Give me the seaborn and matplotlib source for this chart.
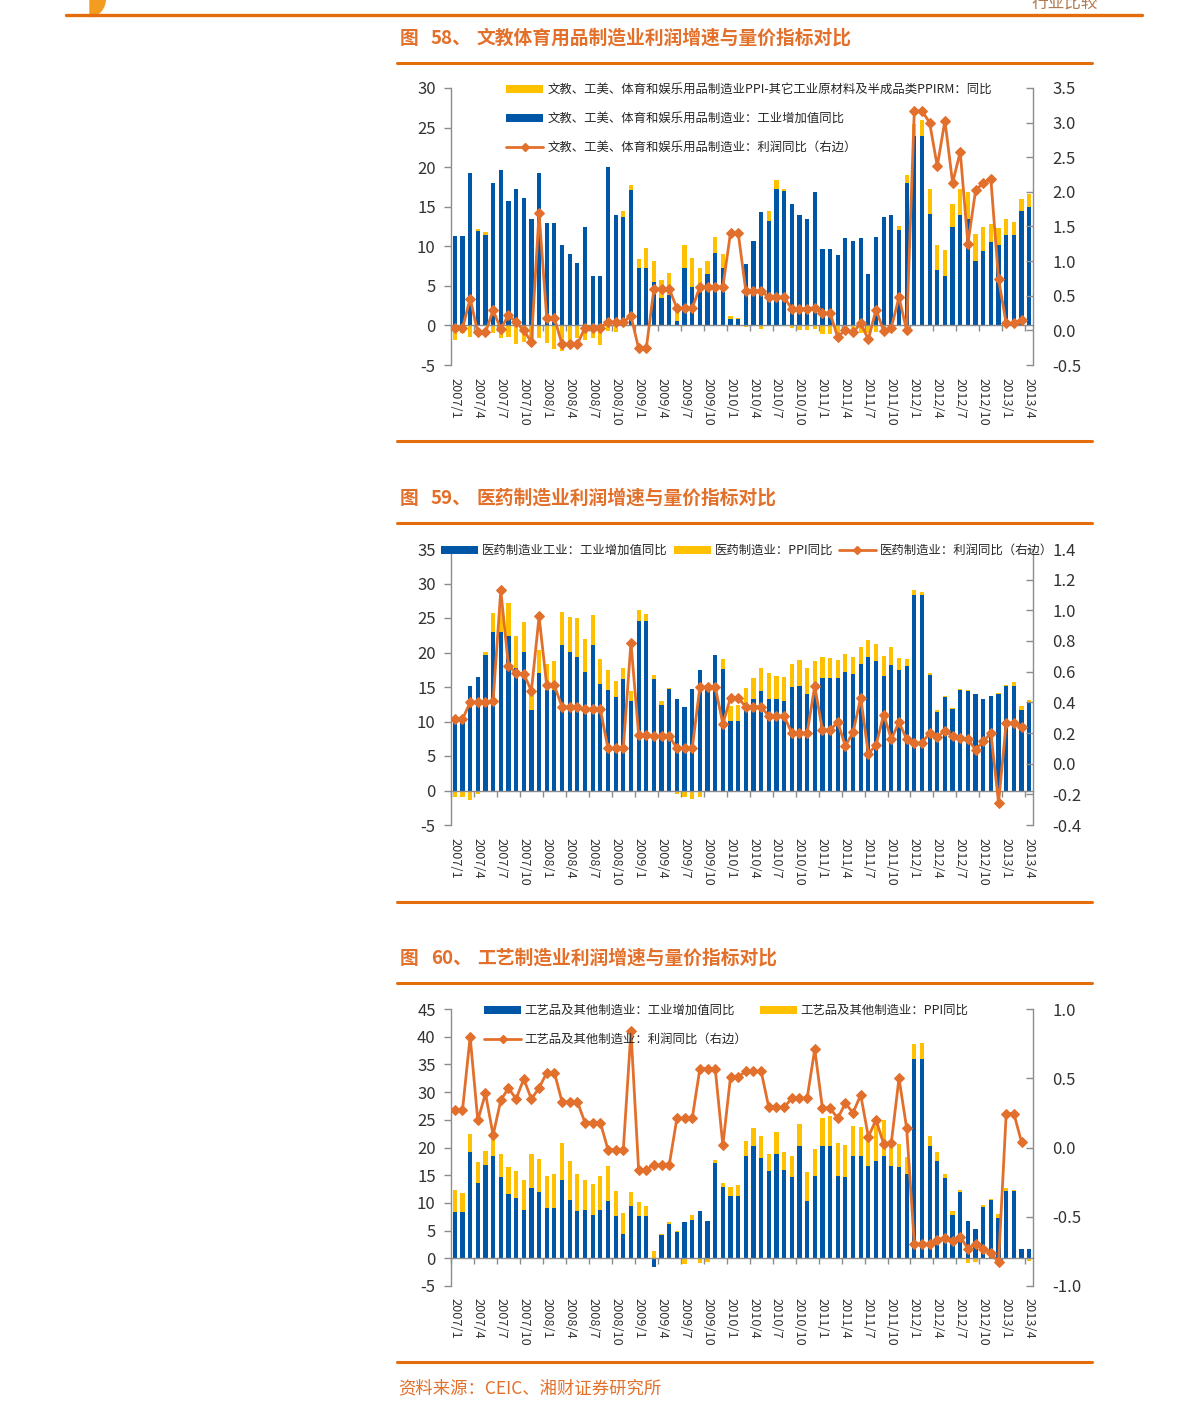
import numpy as np
import matplotlib
matplotlib.use("Agg")
import matplotlib.pyplot as plt
import seaborn as sns
from matplotlib.lines import Line2D
from matplotlib.patches import Patch, Wedge

# ---------------- data ----------------
tick_labels = ["2007/1", "2007/4", "2007/7", "2007/10", "2008/1", "2008/4", "2008/7", "2008/10",
               "2009/1", "2009/4", "2009/7", "2009/10", "2010/1", "2010/4", "2010/7", "2010/10",
               "2011/1", "2011/4", "2011/7", "2011/10", "2012/1", "2012/4", "2012/7", "2012/10",
               "2013/1", "2013/4"]
n_months = 76

p1_blue = [11.3, 11.3, 19.2, 11.9, 11.4, 18.0, 19.6, 15.7, 17.3, 16.1,
           13.4, 19.3, 13.0, 13.0, 10.1, 9.0, 7.9, 12.4, 6.3, 6.2,
           20.0, 14.0, 13.7, 17.1, 7.3, 7.3, 5.5, 3.5, 3.8, 0.5,
           7.3, 4.8, 4.7, 6.5, 9.2, 7.3, 0.75, 0.75, 7.8, 10.7,
           14.3, 13.2, 17.3, 17.0, 15.3, 13.9, 13.4, 16.8, 9.7, 9.7,
           8.9, 11.1, 10.7, 11.0, 6.5, 11.2, 13.7, 13.9, 12.0, 18.0,
           23.9, 23.9, 14.1, 7.0, 6.3, 12.5, 14.0, 13.4, 8.2, 9.4,
           10.5, 10.2, 11.4, 11.4, 14.5, 15.0]
p1_yellow = [-1.8, -1.0, -1.4, 0.3, 0.35, -0.9, -1.6, -1.4, -2.3, -2.1,
             -2.0, -1.6, -2.2, -3.0, -3.2, -2.4, -1.6, -1.8, -1.55, -2.5,
             -0.7, -0.8, 0.8, 0.7, 1.05, 2.5, 2.65, 2.2, 2.8, 1.7,
             2.8, 3.7, 2.5, 1.7, 2.0, 1.7, 0.45, 0.25, -0.15, -0.1,
             -0.5, 1.2, 1.1, 0.2, -0.3, -0.55, -0.55, -0.4, -1.1, -1.1,
             -1.4, -0.9, -0.8, -1.0, -1.0, -0.8, -0.3, -0.2, 0.6, 1.05,
             1.5, 2.1, 3.2, 3.1, 3.2, 2.9, 3.3, 3.4, 3.4, 3.1,
             2.3, 2.1, 2.1, 1.7, 1.5, 1.6]
p1_line = [0.03, 0.03, 0.46, -0.03, -0.03, 0.29, 0.02, 0.22, 0.12, 0.0,
           -0.17, 1.69, 0.18, 0.18, -0.2, -0.2, -0.2, 0.04, 0.04, 0.04,
           0.12, 0.12, 0.12, 0.21, -0.26, -0.26, 0.6, 0.6, 0.6, 0.32,
           0.32, 0.32, 0.63, 0.63, 0.63, 0.63, 1.41, 1.41, 0.57, 0.57,
           0.57, 0.48, 0.48, 0.48, 0.31, 0.31, 0.31, 0.32, 0.25, 0.25,
           -0.1, 0.01, -0.03, 0.1, -0.13, 0.3, -0.01, 0.04, 0.48, 0.0,
           3.17, 3.17, 3.0, 2.37, 3.03, 2.13, 2.58, 1.25, 2.02, 2.13,
           2.18, 0.74, 0.1, 0.1, 0.15, np.nan]

p2_blue = [10.1, 10.1, 15.2, 16.5, 19.7, 22.9, 22.9, 22.4, 17.7, 20.1,
           11.7, 17.0, 14.5, 14.5, 21.1, 20.1, 19.4, 17.2, 21.1, 15.5,
           14.5, 13.5, 16.1, 12.9, 24.6, 24.6, 16.1, 12.4, 14.7, 13.2,
           12.1, 14.7, 17.5, 14.5, 19.7, 17.6, 10.1, 10.1, 12.7, 13.3,
           14.4, 13.2, 13.3, 12.9, 15.0, 15.1, 14.0, 15.2, 16.25, 16.25,
           16.25, 17.2, 16.9, 18.3, 19.4, 18.7, 16.6, 18.2, 17.5, 18.0,
           28.3, 28.3, 16.8, 11.4, 13.5, 11.8, 14.6, 14.4, 14.0, 13.3,
           13.75, 14.0, 15.1, 15.1, 11.7, 12.7]
p2_yellow = [-0.9, -0.9, -1.35, -0.5, 0.4, 2.85, 3.4, 4.8, 4.75, 4.3,
             3.0, 3.3, 3.8, 4.3, 4.8, 5.0, 5.6, 4.7, 4.3, 3.6,
             3.0, 2.3, 1.6, 1.5, 1.6, 1.0, 0.7, 0.5, 0.2, -0.5,
             -0.9, -1.2, -0.9, -0.2, -0.2, 1.4, 2.2, 2.3, 2.2, 3.0,
             3.4, 3.8, 3.3, 3.5, 3.4, 3.75, 3.8, 3.5, 3.1, 3.0,
             2.7, 2.6, 2.45, 2.5, 2.35, 2.6, 2.9, 2.6, 1.7, 1.1,
             0.8, 0.4, 0.25, 0.25, 0.15, 0.1, 0.15, 0.15, -0.1, -0.15,
             -0.1, 0.15, 0.25, 0.6, 0.5, 0.4]
p2_line = [0.29, 0.29, 0.40, 0.40, 0.40, 0.41, 1.13, 0.64, 0.59, 0.585,
           0.475, 0.96, 0.51, 0.51, 0.37, 0.37, 0.37, 0.356, 0.356, 0.356,
           0.10, 0.10, 0.10, 0.79, 0.19, 0.19, 0.18, 0.18, 0.18, 0.10,
           0.10, 0.10, 0.50, 0.50, 0.50, 0.26, 0.43, 0.43, 0.37, 0.37,
           0.37, 0.31, 0.31, 0.31, 0.20, 0.20, 0.20, 0.505, 0.22, 0.22,
           0.27, 0.115, 0.205, 0.43, 0.065, 0.12, 0.32, 0.16, 0.27, 0.16,
           0.135, 0.135, 0.20, 0.175, 0.215, 0.18, 0.17, 0.16, 0.09, 0.145,
           0.20, -0.255, 0.265, 0.265, 0.24, np.nan]

p3_blue = [8.3, 8.3, 19.1, 13.6, 16.8, 18.5, 14.6, 11.6, 10.8, 8.8,
           12.7, 11.9, 9.1, 9.1, 14.2, 10.6, 8.5, 8.8, 7.9, 8.8,
           10.3, 7.7, 4.4, 9.4, 7.7, 7.7, -1.6, 4.2, 6.2, 4.8,
           6.5, 7.0, 8.6, 6.8, 17.2, 12.9, 11.2, 11.2, 18.5, 20.3,
           18.1, 15.7, 18.8, 16.0, 14.6, 20.2, 10.3, 14.8, 20.2, 20.2,
           14.8, 14.6, 18.5, 18.4, 16.6, 17.6, 18.4, 16.7, 16.4, 15.2,
           36.0, 36.0, 20.2, 17.5, 14.5, 7.9, 12.0, 6.8, 5.3, 9.2,
           10.5, 7.2, 12.1, 12.1, 1.6, 1.6]
p3_yellow = [4.1, 3.5, 3.3, 3.7, 2.5, 3.4, 4.3, 4.8, 4.9, 5.3,
             6.2, 6.0, 5.7, 6.2, 6.7, 7.0, 6.8, 5.3, 5.6, 6.0,
             6.3, 4.5, 3.7, 2.6, 2.4, 1.8, 1.3, 0.25, 0.35, 0.15,
             -1.1, 0.85, -0.8, -0.65, 0.5, 0.65, 1.7, 2.1, 2.6, 3.2,
             3.9, 3.2, 4.0, 3.2, 3.8, 4.0, 5.2, 4.9, 5.2, 5.4,
             6.1, 5.8, 5.3, 5.3, 5.3, 6.3, 6.6, 4.2, 4.3, 3.1,
             2.6, 2.8, 1.9, 1.7, 0.8, 0.7, 0.25, -0.85, -0.6, 0.5,
             0.2, 0.85, 0.65, 0.2, 0.05, -0.5]
p3_line = [0.27, 0.27, 0.80, 0.195, 0.39, 0.09, 0.34, 0.43, 0.35, 0.495,
           0.35, 0.43, 0.54, 0.54, 0.33, 0.33, 0.33, 0.18, 0.18, 0.18,
           -0.015, -0.015, -0.015, 0.84, -0.16, -0.16, -0.125, -0.125, -0.125, 0.21,
           0.21, 0.21, 0.57, 0.57, 0.57, 0.015, 0.51, 0.51, 0.55, 0.55,
           0.55, 0.29, 0.29, 0.29, 0.355, 0.355, 0.355, 0.71, 0.285, 0.285,
           0.21, 0.32, 0.25, 0.38, 0.077, 0.2, 0.026, 0.036, 0.50, 0.14,
           -0.695, -0.695, -0.70, -0.67, -0.65, -0.675, -0.645, -0.73, -0.695, -0.735,
           -0.76, -0.83, 0.245, 0.245, 0.04, np.nan]

titles = ["文教体育用品制造业利润增速与量价指标对比",
          "医药制造业利润增速与量价指标对比",
          "工艺制造业利润增速与量价指标对比"]
fig_nums = ["58", "59", "60"]

p1_labels = ["文教、工美、体育和娱乐用品制造业PPI-其它工业原材料及半成品类PPIRM：同比",
             "文教、工美、体育和娱乐用品制造业：工业增加值同比",
             "文教、工美、体育和娱乐用品制造业：利润同比（右边）"]
p2_labels = ["医药制造业工业：工业增加值同比", "医药制造业：PPI同比", "医药制造业：利润同比（右边）"]
p3_labels = ["工艺品及其他制造业：工业增加值同比", "工艺品及其他制造业：PPI同比",
             "工艺品及其他制造业：利润同比（右边）"]

left_lims = [(-5, 30), (-5, 35), (-5, 45)]
left_ticks = [np.arange(-5, 31, 5), np.arange(-5, 36, 5), np.arange(-5, 46, 5)]
right_lims = [(-0.5, 3.5), (-0.4, 1.4), (-1.0, 1.0)]
right_ticks = [np.arange(-0.5, 3.51, 0.5), np.arange(-0.4, 1.41, 0.2), np.arange(-1.0, 1.01, 0.5)]

# ---------------- style ----------------
sns.set_theme(style="white")
plt.rcParams["font.family"] = ["Noto Sans CJK SC", "DejaVu Sans"]
plt.rcParams["axes.unicode_minus"] = False

BLUE = "#0056A6"
YELLOW = "#FFC000"
ORANGE = "#E2702C"
TITLE_C = "#E3702A"
GRAY = "#8C8C8C"
TXT = "#333333"

W, H = 1191, 1420
fig = plt.figure(figsize=(W / 100, H / 100), dpi=100)
fig.patch.set_facecolor("white")


def fx(px):
    return px / W


def fy(py):
    return 1 - py / H


def hline(y, x0, x1, lw):
    fig.add_artist(Line2D([fx(x0), fx(x1)], [fy(y), fy(y)], color="#E46C0A", lw=lw,
                          transform=fig.transFigure))


# header decorations
hline(15, 66, 1142, 2.4)
fig.add_artist(Wedge((fx(90), fy(-2)), 0.013, 270, 360, color="#F39C1F",
                     transform=fig.transFigure))
fig.text(fx(1098), fy(3), "行业比较", ha="right", va="center", fontsize=12, color="#B07A50")

panels = [
    dict(blue=p1_blue, yellow=p1_yellow, line=p1_line, top=88, bottom=365, tline=38,
         rule_top=63, rule_bot=441),
    dict(blue=p2_blue, yellow=p2_yellow, line=p2_line, top=549, bottom=825, tline=498,
         rule_top=523, rule_bot=902),
    dict(blue=p3_blue, yellow=p3_yellow, line=p3_line, top=1009, bottom=1286, tline=958,
         rule_top=983, rule_bot=1362),
]

x = np.arange(n_months)
for i, p in enumerate(panels):
    ax = fig.add_axes([fx(451), fy(p["bottom"]), fx(1033) - fx(451),
                       (p["bottom"] - p["top"]) / H])
    ax.set_facecolor("none")
    blue = np.array(p["blue"])
    yel = np.array(p["yellow"])
    bottom = np.where(np.sign(yel) == np.sign(blue), blue, 0.0)
    ax.bar(x, blue, width=0.55, color=BLUE, edgecolor="none", zorder=2)
    ax.bar(x, yel, bottom=bottom, width=0.55, color=YELLOW, edgecolor="none", zorder=2)
    ax.set_xlim(-0.5, n_months - 0.5)
    ax.set_ylim(*left_lims[i])
    ax.set_yticks(left_ticks[i])
    ax.set_yticklabels([f"{v:d}" for v in left_ticks[i]], fontsize=12, color=TXT)
    ax.tick_params(axis="y", direction="out", length=5, width=1, color=GRAY, pad=6, left=True)
    for s in ["top", "right"]:
        ax.spines[s].set_visible(False)
    ax.spines["left"].set_color(GRAY)
    ax.spines["left"].set_linewidth(1)
    ax.spines["bottom"].set_position(("data", 0))
    ax.spines["bottom"].set_color(GRAY)
    ax.spines["bottom"].set_linewidth(1)
    ax.set_xticks(np.arange(-0.5, n_months, 3))
    ax.set_xticklabels([])
    ax.tick_params(axis="x", direction="out", length=4, width=1, color=GRAY, bottom=True)
    ax.grid(False)

    sec = ax.secondary_xaxis("bottom")
    sec.set_xticks(np.arange(0, n_months, 3))
    sec.set_xticklabels(tick_labels, rotation=-90, fontsize=9.2, color=TXT)
    sec.tick_params(length=0, pad=9)
    sec.spines["bottom"].set_visible(False)

    ax2 = ax.twinx()
    sns.lineplot(x=x, y=np.array(p["line"]), ax=ax2, color=ORANGE, lw=2.0,
                 marker="D", markersize=5, markeredgecolor=ORANGE, markerfacecolor=ORANGE)
    ax2.set_ylim(*right_lims[i])
    ax2.set_yticks(right_ticks[i])
    ax2.set_yticklabels([f"{v:.1f}" for v in right_ticks[i]], fontsize=12, color=TXT)
    ax2.tick_params(axis="y", direction="in", length=5, width=1, color=GRAY, pad=14, right=True)
    for s in ["top", "left", "bottom"]:
        ax2.spines[s].set_visible(False)
    ax2.spines["right"].set_color(GRAY)
    ax2.spines["right"].set_linewidth(1)
    ax2.set_ylabel("")
    ax2.set_xlabel("")
    ax2.grid(False)
    ax2.set_xlim(-0.5, n_months - 0.5)

    # titles and rules
    fig.text(fx(400), fy(p["tline"]), "图", fontsize=13.5, color=TITLE_C, va="center",
             ha="left", fontweight="bold")
    fig.text(fx(431), fy(p["tline"]), fig_nums[i] + "、", fontsize=13.5, color=TITLE_C,
             va="center", ha="left", fontweight="bold")
    fig.text(fx(477), fy(p["tline"]), titles[i], fontsize=13.5, color=TITLE_C, va="center",
             ha="left", fontweight="bold")
    hline(p["rule_top"], 397, 1092, 2.2)
    hline(p["rule_bot"], 397, 1092, 2.2)

# legends
h_yel = Patch(facecolor=YELLOW, edgecolor="none")
h_blue = Patch(facecolor=BLUE, edgecolor="none")
h_line = Line2D([], [], color=ORANGE, lw=2.0, marker="D", markersize=4)

fig.legend([h_yel, h_blue, h_line], p1_labels, loc="upper left",
           bbox_to_anchor=(fx(506), fy(83)), frameon=False, fontsize=8.9,
           handlelength=3.0, handleheight=0.6, handletextpad=0.35, labelspacing=1.3,
           borderaxespad=0, borderpad=0)
fig.legend([h_blue, h_yel, h_line], p2_labels, loc="upper left", ncol=3,
           bbox_to_anchor=(fx(441), fy(544)), frameon=False, fontsize=8.9,
           handlelength=3.0, handleheight=0.6, handletextpad=0.3, columnspacing=0.5,
           borderaxespad=0, borderpad=0)
fig.legend([h_blue, h_line, h_yel], [p3_labels[0], p3_labels[2], p3_labels[1]],
           loc="upper left", ncol=2, bbox_to_anchor=(fx(484), fy(1004)), frameon=False,
           fontsize=8.9, handlelength=3.0, handleheight=0.6, handletextpad=0.3,
           columnspacing=1.0, labelspacing=1.3, borderaxespad=0, borderpad=0)

fig.text(fx(398), fy(1388), "资料来源：CEIC、湘财证券研究所", fontsize=12.5, color=TITLE_C,
         va="center", ha="left")

fig.savefig("out.png", dpi=100, facecolor="white")
